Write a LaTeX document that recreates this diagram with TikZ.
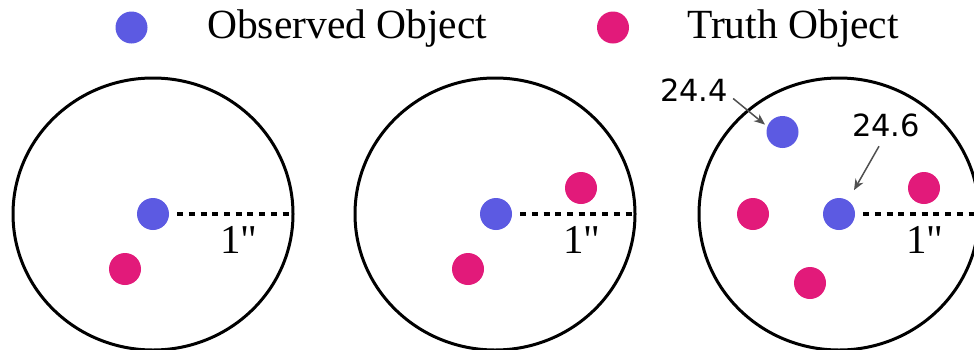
\documentclass[tikz,border=0pt]{standalone}
\usepackage{fontspec}
\setmainfont{Liberation Serif}
\newfontfamily\radfont{Liberation Serif}[Ligatures=TeXOff]
\newfontfamily\numfont{DejaVu Sans}
\usetikzlibrary{shapes.geometric,arrows.meta}
\definecolor{obsblue}{RGB}{92,90,226}
\definecolor{truthpink}{RGB}{226,26,122}
\definecolor{arrgray}{RGB}{80,80,80}
\tikzset{
  obsdot/.style={circle,fill=obsblue,minimum size=32pt,inner sep=0pt},
  truthdot/.style={circle,fill=truthpink,minimum size=32pt,inner sep=0pt},
  aperture/.style={ellipse,draw=black,line width=3pt,minimum width=280pt,minimum height=272pt,inner sep=0pt},
  dotline/.style={line width=4.5pt,dash pattern=on 6pt off 5.7pt,shorten <=8pt,shorten >=5pt},
  bigtext/.style={font=\fontsize{41.5}{45}\selectfont,inner sep=0pt},
  radlabel/.style={font=\radfont\fontsize{41}{45}\selectfont,inner sep=0pt,anchor=base},
  maglabel/.style={font=\numfont\fontsize{30.5}{34}\selectfont,inner sep=0pt},
  arr/.style={draw=arrgray,line width=1.5pt,-{Stealth[length=11pt,width=9pt]}}
}
\begin{document}
\begin{tikzpicture}[x=1pt,y=-1pt]
\useasboundingbox (0,0) rectangle (974,349);
% legend
\node[obsdot] (lgb) at (131.5,27.5) {};
\node[bigtext,anchor=base west] (lgbt) at (207,38.5) {Observed Object};
\node[truthdot] (lgp) at (613,27.5) {};
\node[bigtext,anchor=base west] (lgpt) at (687,38.5) {Truth Object};
% circle 1
\node[aperture] (c1) at (153,214) {};
\node[obsdot] (b1) at (153,214) {};
\node[truthdot] (p1) at (125,269) {};
\draw[dotline] (b1) -- (c1.east);
\node[radlabel] (r1) at (239,253) {1"};
% circle 2
\node[aperture] (c2) at (495,214) {};
\node[obsdot] (b2) at (496,214) {};
\node[truthdot] (p2a) at (581,188) {};
\node[truthdot] (p2b) at (468,269) {};
\draw[dotline] (b2) -- (c2.east);
\node[radlabel] (r2) at (582,253) {1"};
% circle 3
\node[aperture] (c3) at (839,214) {};
\node[obsdot] (b3a) at (782.5,132) {};
\node[obsdot] (b3) at (839,214) {};
\node[truthdot] (p3a) at (924,188) {};
\node[truthdot] (p3b) at (753,214) {};
\node[truthdot] (p3c) at (810,283) {};
\draw[dotline] (b3) -- (c3.east);
\node[radlabel] (r3) at (925,253) {1"};
\node[maglabel] (m1) at (694,90) {24.4};
\node[maglabel] (m2) at (886,125.5) {24.6};
\draw[arr,shorten >=3pt] ([shift={(5pt,3pt)}]m1.south east) -- (b3a.160);
\draw[arr,shorten >=12pt] ([shift={(-7pt,-9pt)}]m2.south) -- (b3.56);
\end{tikzpicture}
\end{document}
